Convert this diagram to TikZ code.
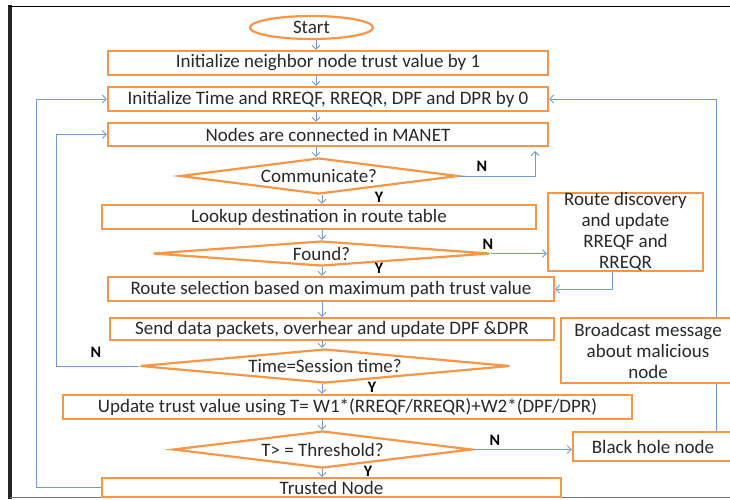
\documentclass[tikz,border=0pt]{standalone}
\usepackage{fontspec}
\setmainfont{Carlito}
\usetikzlibrary{shapes.geometric, arrows.meta, positioning}

\definecolor{boxorange}{RGB}{247,150,70}
\definecolor{flowblue}{RGB}{115,155,208}
\definecolor{textgray}{RGB}{40,40,40}

\tikzset{
  procbox/.style={rectangle, draw=boxorange, line width=2.2pt, inner sep=0pt, text=textgray,
    align=center, font=\fontsize{19}{21}\selectfont},
  decision/.style={diamond, draw=boxorange, line width=2.2pt, inner sep=0pt, aspect=8, text=textgray,
    font=\fontsize{19}{21}\selectfont},
  flowline/.style={draw=flowblue, line width=0.9pt},
  flow/.style={flowline, -{Straight Barb[length=4pt,width=8pt]}},
  yn/.style={inner sep=0pt, text=black, font=\bfseries\fontsize{16}{18}\selectfont}
}

\begin{document}
\begin{tikzpicture}[x=1pt, y=-1pt]
  \useasboundingbox (0,0) rectangle (730,499);

  % Frame
  \draw[black!85, line width=3.5pt] (10,5) -- (10,499);
  \draw[black, line width=1.8pt] (8.5,6.5) -- (730,6.5);
  \draw[black!55, line width=1.2pt] (10,497.5) -- (730,497.5);

  % Spines
  \coordinate (spineA) at (316,0);
  \coordinate (spineB) at (322,0);
  \coordinate (rightbus) at (716,0);
  \coordinate (commN) at (535,151);

  % Main column
  \node[ellipse, draw=boxorange, line width=2.2pt, inner sep=0pt, minimum width=123pt, minimum height=23pt,
    text=textgray, font=\fontsize{19}{21}\selectfont] (start) at (311.5,27.5) {Start};
  \node[procbox, minimum width=440pt, minimum height=24pt] (box1) at (328,63) {Initialize neighbor node trust value by 1};
  \node[procbox, minimum width=440pt, minimum height=24pt] (box2) at (328,99) {Initialize Time and RREQF, RREQR, DPF and DPR by 0};
  \node[procbox, minimum width=440pt, minimum height=23pt] (box3) at (328,134.5) {Nodes are connected in MANET};
  \node[decision, minimum width=278pt, minimum height=36pt] (commdec) at (319,176) {Communicate?};
  \node[procbox, minimum width=434pt, minimum height=24pt] (lookup) at (319,217) {Lookup destination in route table};
  \node[decision, minimum width=337pt, minimum height=25pt] (founddec) at (321.5,253.5) {Found?};
  \node[procbox, minimum width=446pt, minimum height=24pt] (routesel) at (331,289) {Route selection based on maximum path trust value};
  \node[procbox, minimum width=444pt, minimum height=22pt] (senddata) at (332,329) {Send data packets, overhear and update DPF \&DPR};
  \node[decision, minimum width=370pt, minimum height=34pt] (timedec) at (325,366) {Time=Session time?};
  \node[procbox, minimum width=569pt, minimum height=24pt] (update) at (347.5,407) {Update trust value using T= W1*(RREQF/RREQR)+W2*(DPF/DPR)};
  \node[decision, minimum width=299pt, minimum height=37pt] (thrdec) at (322.5,449.5) {T> = Threshold?};
  \node[procbox, minimum width=459pt, minimum height=19pt] (trusted) at (331.5,487.5) {Trusted Node};

  % Right column
  \node[procbox, minimum width=155pt, minimum height=78pt] (routedisc) at (625.5,232) {Route discovery\\and update\\RREQF and\\RREQR};
  \node[procbox, minimum width=174pt, minimum height=65pt] (broadcast) at (648,350.5) {Broadcast message\\about malicious\\node};
  \node[procbox, minimum width=160pt, minimum height=29pt] (blackhole) at (653,446.5) {Black hole node};

  % Main flow
  \draw[flow] (start.south -| spineA) -- (box1.north -| spineA);
  \draw[flow] (box1.south -| spineA) -- (box2.north -| spineA);
  \draw[flow] (box2.south -| spineA) -- (box3.north -| spineA);
  \draw[flow] (box3.south -| spineA) -- (commdec.north -| spineA);
  \draw[flow] (commdec.south -| spineB) -- (lookup.north -| spineB);
  \draw[flow] (lookup.south -| spineB) -- (founddec.north -| spineB);
  \draw[flow] (founddec.south -| spineB) -- (routesel.north -| spineB);
  \draw[flow] (routesel.south -| spineB) -- (senddata.north -| spineB);
  \draw[flow] (senddata.south -| spineB) -- (timedec.north -| spineB);
  \draw[flow] (timedec.south -| spineB) -- (update.north -| spineB);
  \draw[flow] (update.south -| spineB) -- (thrdec.north -| spineB);
  \draw[flow] (thrdec.south -| spineB) -- (trusted.north -| spineB);

  % Branches
  \draw[flow] (commdec.east) -| (commN);
  \draw[flow] (founddec.east) -- (founddec.east -| routedisc.west);
  \draw[flow] ([xshift=-13.5pt]routedisc.south) |- (routesel.east);
  \draw[flow] (timedec.west) -- ++(-82,0) |- (box3.west);
  \draw[flow] (trusted.west) -- ++(-64,0) |- (box2.west);
  \draw[flow] (thrdec.east) -- (thrdec.east -| blackhole.west);
  \draw[flowline] (blackhole.north -| rightbus) -- (broadcast.south -| rightbus);
  \draw[flow] (broadcast.north -| rightbus) |- (box2.east);

  % Labels
  \node[yn] (commno) at (482,166) {N};
  \node[yn] (commyes) at (379,197) {Y};
  \node[yn] (foundno) at (488,244) {N};
  \node[yn] (foundyes) at (379,268) {Y};
  \node[yn] (timeno) at (96,352) {N};
  \node[yn] (timeyes) at (372,387) {Y};
  \node[yn] (thrno) at (495,440) {N};
  \node[yn] (thryes) at (368,471) {Y};
\end{tikzpicture}
\end{document}
